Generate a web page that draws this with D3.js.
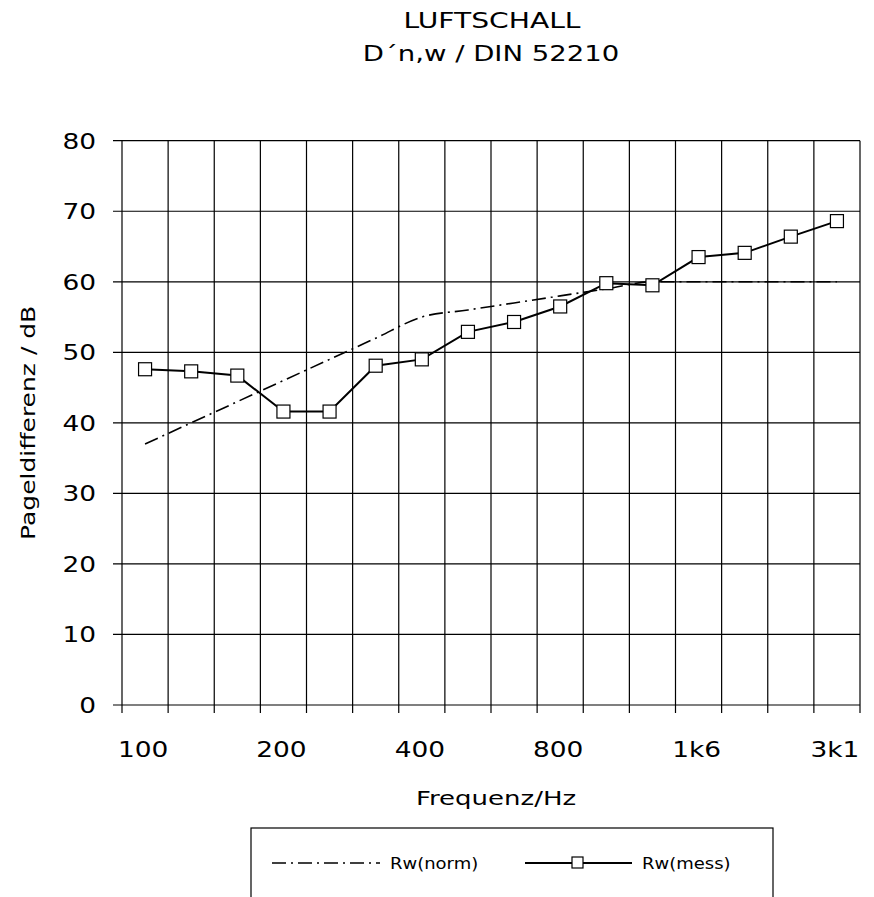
<!DOCTYPE html>
<html>
<head>
<meta charset="utf-8">
<script src="https://cdn.jsdelivr.net/npm/d3@7"></script>
<style>
  body { margin: 0; background: #fff; }
  text { font-family: "DejaVu Sans", "Liberation Sans", sans-serif; fill: #000; }
</style>
</head>
<body>
<svg class="chart"></svg>
<script>
var freqs = ["100", "125", "160", "200", "250", "315", "400", "500", "630", "800", "1000", "1250", "1600", "2000", "2500", "3150"];
var labelFreqs = ["100", "200", "400", "800", "1600", "3150"];
var labelTexts = ["100", "200", "400", "800", "1k6", "3k1"];
var yTicks = [0, 10, 20, 30, 40, 50, 60, 70, 80];
var rwNorm = [37, 40, 43, 46, 49, 52, 55, 56, 57, 58, 59, 60, 60, 60, 60, 60];
var rwMess = [47.6, 47.3, 46.7, 41.6, 41.6, 48.1, 49.0, 52.9, 54.3, 56.5, 59.8, 59.5, 63.5, 64.1, 66.4, 68.6];

var w = 874, h = 897,
    pLeft = 122, pRight = 860, pTop = 140.7, pBottom = 705;

var x = d3.scaleBand()
    .domain(freqs)
    .range([pLeft, pRight]);

var y = d3.scaleLinear()
    .domain([0, 80])
    .range([pBottom, pTop]);

var chart = d3.select(".chart")
    .attr("width", w)
    .attr("height", h);

// stretch text a bit sideways, the scan has wide letters
function stretched(sel, sx, px, py) {
  sel.attr("transform", "translate(" + px + "," + py + ") scale(" + sx + ",1)");
  return sel;
}

// title
stretched(chart.append("text"), 1.28, 492, 28)
    .attr("text-anchor", "middle")
    .style("font-size", "22px")
    .text("LUFTSCHALL");
stretched(chart.append("text"), 1.25, 491, 61)
    .attr("text-anchor", "middle")
    .style("font-size", "22px")
    .text("D\u00b4n,w / DIN 52210");

// horizontal grid + y ticks
chart.append("g")
    .selectAll("line")
    .data(yTicks)
    .enter().append("line")
    .attr("x1", pLeft - 9)
    .attr("x2", pRight)
    .attr("y1", function(d) { return y(d); })
    .attr("y2", function(d) { return y(d); })
    .attr("stroke", "#000")
    .attr("stroke-width", 1.2);

// vertical grid at band edges + x ticks
var edges = freqs.map(function(f) { return x(f); }).concat([pRight]);
chart.append("g")
    .selectAll("line")
    .data(edges)
    .enter().append("line")
    .attr("x1", function(d) { return d; })
    .attr("x2", function(d) { return d; })
    .attr("y1", pTop)
    .attr("y2", pBottom + 8)
    .attr("stroke", "#000")
    .attr("stroke-width", 1.2);

// y tick labels
chart.append("g")
    .selectAll("text")
    .data(yTicks)
    .enter().append("text")
    .each(function(d) {
      stretched(d3.select(this), 1.2, 96, y(d) + 8);
    })
    .attr("text-anchor", "end")
    .style("font-size", "22px")
    .text(function(d) { return d; });

// x tick labels
chart.append("g")
    .selectAll("text")
    .data(labelFreqs)
    .enter().append("text")
    .each(function(d) {
      stretched(d3.select(this), 1.2, x(d) + x.bandwidth() / 2 - 2, 757);
    })
    .attr("text-anchor", "middle")
    .style("font-size", "22px")
    .text(function(d, i) { return labelTexts[i]; });

// axis titles
stretched(chart.append("text"), 1.3, 496, 805)
    .attr("text-anchor", "middle")
    .style("font-size", "20px")
    .text("Frequenz/Hz");

chart.append("text")
    .attr("transform", "translate(35," + ((pTop + pBottom) / 2) + ") rotate(-90) scale(1.25,1)")
    .attr("text-anchor", "middle")
    .style("font-size", "20px")
    .text("Pageldifferenz / dB");

var cx = function(d, i) { return x(freqs[i]) + x.bandwidth() / 2; };

// Rw(norm) dash-dot
chart.append("path")
    .datum(rwNorm)
    .attr("fill", "none")
    .attr("stroke", "#000")
    .attr("stroke-width", 1.6)
    .attr("stroke-dasharray", "14,5,2,5")
    .attr("d", d3.line().x(cx).y(function(d) { return y(d); }).curve(d3.curveMonotoneX));

// Rw(mess) line + squares
chart.append("path")
    .datum(rwMess)
    .attr("fill", "none")
    .attr("stroke", "#000")
    .attr("stroke-width", 2)
    .attr("d", d3.line().x(cx).y(function(d) { return y(d); }));

chart.append("g")
    .selectAll("rect")
    .data(rwMess)
    .enter().append("rect")
    .attr("x", function(d, i) { return cx(d, i) - 6.5; })
    .attr("y", function(d) { return y(d) - 6.5; })
    .attr("width", 13)
    .attr("height", 13)
    .attr("fill", "#fff")
    .attr("stroke", "#000")
    .attr("stroke-width", 1.2);

// legend
var lg = chart.append("g");
lg.append("rect")
    .attr("x", 251)
    .attr("y", 828)
    .attr("width", 522)
    .attr("height", 110)
    .attr("fill", "none")
    .attr("stroke", "#000")
    .attr("stroke-width", 1.2);

lg.append("line")
    .attr("x1", 272).attr("x2", 380)
    .attr("y1", 863).attr("y2", 863)
    .attr("stroke", "#000")
    .attr("stroke-width", 1.6)
    .attr("stroke-dasharray", "14,5,2,5");
stretched(lg.append("text"), 1.2, 390, 869)
    .style("font-size", "15px")
    .text("Rw(norm)");

lg.append("line")
    .attr("x1", 525).attr("x2", 632)
    .attr("y1", 863).attr("y2", 863)
    .attr("stroke", "#000")
    .attr("stroke-width", 2);
lg.append("rect")
    .attr("x", 572).attr("y", 857)
    .attr("width", 11).attr("height", 11)
    .attr("fill", "#fff")
    .attr("stroke", "#000")
    .attr("stroke-width", 1.2);
stretched(lg.append("text"), 1.2, 642, 869)
    .style("font-size", "15px")
    .text("Rw(mess)");
</script>
</body>
</html>
